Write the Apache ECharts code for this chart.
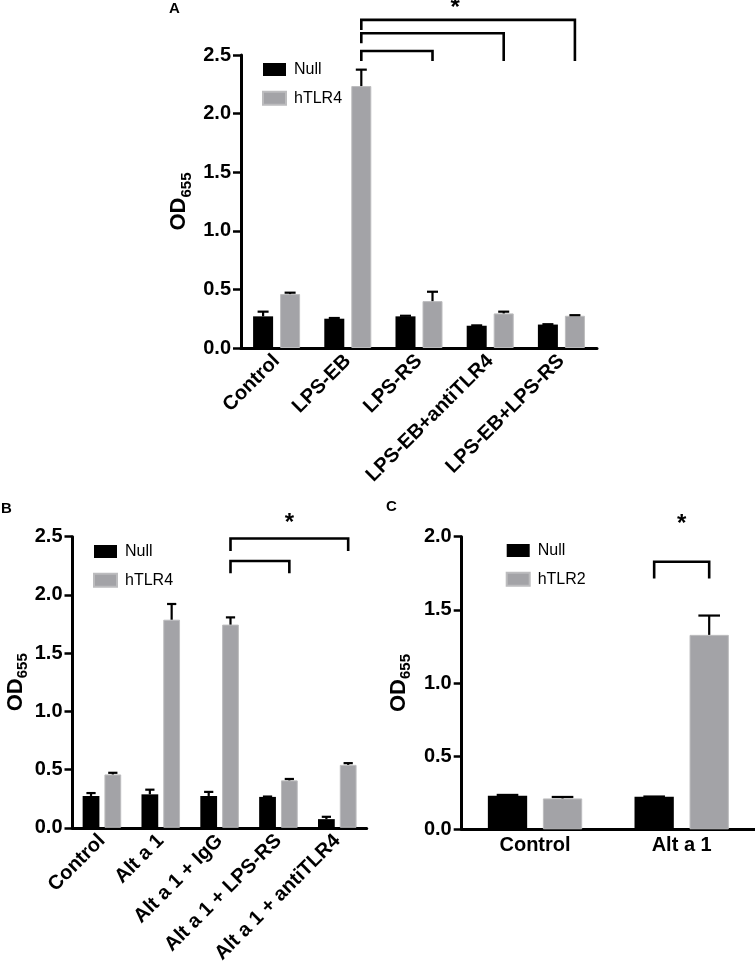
<!DOCTYPE html>
<html><head><meta charset="utf-8">
<script src="https://cdn.jsdelivr.net/npm/echarts@6/dist/echarts.min.js"></script>
<style>html,body{margin:0;padding:0;background:#fff}#c{width:755px;height:966px}</style>
</head><body><div id="c"></div><script>
// ---------- data ----------
const catA = ['Control', 'LPS-EB', 'LPS-RS', 'LPS-EB+antiTLR4', 'LPS-EB+LPS-RS'];
const nullA = [0.27, 0.25, 0.27, 0.19, 0.20];
const nullAErr = [0.04, 0.006, 0.005, 0.003, 0.003];
const tlr4A = [0.46, 2.235, 0.40, 0.295, 0.275];
const tlr4AErr = [0.012, 0.14, 0.08, 0.015, 0.005];

const catB = ['Control', 'Alt a 1', 'Alt a 1 + IgG', 'Alt a 1 + LPS-RS', 'Alt a 1 + antiTLR4'];
const nullB = [0.273, 0.287, 0.273, 0.265, 0.074];
const nullBErr = [0.025, 0.04, 0.035, 0.003, 0.02];
const tlr4B = [0.458, 1.787, 1.745, 0.407, 0.54];
const tlr4BErr = [0.014, 0.135, 0.062, 0.012, 0.015];

const catC = ['Control', 'Alt a 1'];
const nullC = [0.229, 0.222];
const nullCErr = [0.006, 0.002];
const tlr2C = [0.211, 1.329];
const tlr2CErr = [0.01, 0.132];

// brackets: [cat1, group1, cat2, group2, yTop, yBottomLeft, yBottomRight]
const bracketsA = [[1, 1, 2, 1, 2.534, 2.449, 2.449], [1, 1, 3, 1, 2.685, 2.6, 2.449], [1, 1, 4, 1, 2.80, 2.713, 2.449]];
const bracketsB = [[2, 1, 3, 1, 2.291, 2.186, 2.186], [2, 1, 4, 1, 2.485, 2.377, 2.377]];
const bracketsC = [[1, 0, 1, 1, 1.829, 1.715, 1.715]];
// stars: [bracketIndex, fraction along bracket, y]
const starsA = [[2, 0.44, 2.90]];
const starsB = [[1, 0.5, 2.613]];
const starsC = [[0, 0.5, 2.086]];

const yMaxA = 2.5, yMaxB = 2.5, yMaxC = 2.0, yStep = 0.5;
const namesA = ['Null', 'hTLR4'], namesB = ['Null', 'hTLR4'], namesC = ['Null', 'hTLR2'];
const panelLabels = ['A', 'B', 'C'];

// ---------- style / layout ----------
const FONT = 'Liberation Sans, Arial, sans-serif';
const BLACK = '#000000', GREY = '#a3a3a7';
const layout = [
  { grid: { left: 241, top: 55, width: 356, height: 293 }, bw: 0.281, gap: 0.35, nameGap: 47, rotate: 45 },
  { grid: { left: 72.5, top: 536.7, width: 294.2, height: 292.6 }, bw: 0.285, gap: 0.30, nameGap: 38.5, rotate: 45 },
  { grid: { left: 461.7, top: 536.7, width: 293.3, height: 292.6 }, bw: 0.268, gap: 0.40, nameGap: 48, rotate: 0 }
];

function offsetOf(api, g, p) {
  const band = api.size([1, 0])[0];
  const L = layout[p];
  return (g === 0 ? -1 : 1) * band * L.bw * (1 + L.gap) / 2;
}

function errRender(p, g) {
  return function (params, api) {
    const x = api.value(0), v = api.value(1), e = api.value(2);
    const band = api.size([1, 0])[0];
    const barW = band * layout[p].bw;
    const off = offsetOf(api, g, p);
    const base = api.coord([x, v]);
    const top = api.coord([x, v + e]);
    const cx = base[0] + off;
    const capW = barW * 0.55;
    const st = { stroke: BLACK, lineWidth: 2.2 };
    return {
      type: 'group', children: [
        { type: 'line', shape: { x1: cx, y1: base[1], x2: cx, y2: top[1] }, style: st },
        { type: 'line', shape: { x1: cx - capW / 2, y1: top[1], x2: cx + capW / 2, y2: top[1] }, style: st }
      ]
    };
  };
}

function bracketRender(p, stars) {
  return function (params, api) {
    const c1 = api.value(0), g1 = api.value(1), c2 = api.value(2), g2 = api.value(3);
    const yT = api.value(4), yb1 = api.value(5), yb2 = api.value(6);
    const x1 = api.coord([c1, 0])[0] + offsetOf(api, g1, p);
    const x2 = api.coord([c2, 0])[0] + offsetOf(api, g2, p);
    const pT = api.coord([c1, yT])[1];
    const p1 = api.coord([c1, yb1])[1];
    const p2 = api.coord([c1, yb2])[1];
    const children = [{
      type: 'polyline',
      shape: { points: [[x1, p1], [x1, pT], [x2, pT], [x2, p2]] },
      style: { stroke: BLACK, lineWidth: 2.6, fill: null }
    }];
    stars.forEach(function (s) {
      if (s[0] === params.dataIndex) {
        const sx = x1 + (x2 - x1) * s[1];
        const sy = api.coord([c1, s[2]])[1];
        children.push({
          type: 'text',
          style: { text: '*', x: sx, y: sy, align: 'center', verticalAlign: 'middle',
            font: 'bold 24px ' + FONT, fill: BLACK }
        });
      }
    });
    return { type: 'group', children: children };
  };
}

function errData(vals, errs) { return vals.map(function (v, i) { return [i, v, errs[i]]; }); }

const panels = [
  { cats: catA, s: [nullA, tlr4A], e: [nullAErr, tlr4AErr], names: namesA, max: yMaxA, br: bracketsA, st: starsA },
  { cats: catB, s: [nullB, tlr4B], e: [nullBErr, tlr4BErr], names: namesB, max: yMaxB, br: bracketsB, st: starsB },
  { cats: catC, s: [nullC, tlr2C], e: [nullCErr, tlr2CErr], names: namesC, max: yMaxC, br: bracketsC, st: starsC }
];

const grids = [], xAxes = [], yAxes = [], series = [];
panels.forEach(function (P, p) {
  const L = layout[p];
  grids.push(Object.assign({ containLabel: false }, L.grid));
  xAxes.push({
    type: 'category', gridIndex: p, data: P.cats,
    axisLine: { lineStyle: { color: BLACK, width: 3 } },
    axisTick: { alignWithLabel: true, length: 8, lineStyle: { color: BLACK, width: 2.5 } },
    axisLabel: { interval: 0, rotate: L.rotate, margin: L.rotate ? 10 : 6, color: BLACK,
      fontFamily: FONT, fontWeight: 'bold', fontSize: 20 },
    splitLine: { show: false }
  });
  yAxes.push({
    type: 'value', gridIndex: p, min: 0, max: P.max, interval: yStep,
    name: '{a|OD}{b|655}', nameLocation: 'middle', nameGap: L.nameGap,
    nameTextStyle: {
      rich: {
        a: { fontFamily: FONT, fontWeight: 'bold', fontSize: 22, lineHeight: 30, color: BLACK, verticalAlign: 'middle' },
        b: { fontFamily: FONT, fontWeight: 'bold', fontSize: 15, color: BLACK, verticalAlign: 'bottom' }
      }
    },
    axisLine: { show: true, lineStyle: { color: BLACK, width: 3 } },
    axisTick: { show: true, length: 8, lineStyle: { color: BLACK, width: 2.5 } },
    axisLabel: { margin: 10, color: BLACK, fontFamily: FONT, fontWeight: 'bold', fontSize: 20,
      formatter: function (v) { return v.toFixed(1); } },
    splitLine: { show: false }
  });
  [0, 1].forEach(function (g) {
    series.push({
      type: 'bar', name: P.names[g], xAxisIndex: p, yAxisIndex: p,
      data: P.s[g], barWidth: (L.bw * 100) + '%', barGap: (L.gap * 100) + '%',
      itemStyle: g === 0 ? { color: BLACK } : { color: GREY, borderColor: '#bcbcbe', borderWidth: 1 },
      emphasis: { disabled: true }, animation: false
    });
  });
  [0, 1].forEach(function (g) {
    series.push({
      type: 'custom', xAxisIndex: p, yAxisIndex: p, z: 5, silent: true, clip: false,
      data: errData(P.s[g], P.e[g]), encode: { x: 0, y: 1 },
      renderItem: errRender(p, g), animation: false
    });
  });
  series.push({
    type: 'custom', xAxisIndex: p, yAxisIndex: p, z: 6, silent: true, clip: false,
    data: P.br, encode: { x: 0, y: 4 },
    renderItem: bracketRender(p, P.st), animation: false
  });
});

const legendPos = [{ left: 257, top: 56.5 }, { left: 88, top: 538.5 }, { left: 500.7, top: 537.5 }];
const legends = panels.map(function (P, p) {
  return Object.assign({
    orient: 'vertical', data: P.names, icon: 'rect', itemWidth: 23, itemHeight: 13, itemGap: 12.7,
    selectedMode: false,
    textStyle: { fontFamily: FONT, fontSize: 16, color: BLACK, lineHeight: 13, padding: [0, 0, 0, 3] }
  }, legendPos[p]);
});

const titlePos = [{ left: 169, top: 1 }, { left: 1, top: 501 }, { left: 386, top: 499 }];
const titles = panelLabels.map(function (t, i) {
  return Object.assign({ text: t, padding: 0, textStyle: { fontFamily: FONT, fontWeight: 'bold', fontSize: 15, color: BLACK } }, titlePos[i]);
});

const chart = echarts.init(document.getElementById('c'), null, { renderer: 'canvas' });
chart.setOption({
  animation: false,
  backgroundColor: '#ffffff',
  title: titles,
  legend: legends,
  grid: grids,
  xAxis: xAxes,
  yAxis: yAxes,
  series: series
});
</script></body></html>
